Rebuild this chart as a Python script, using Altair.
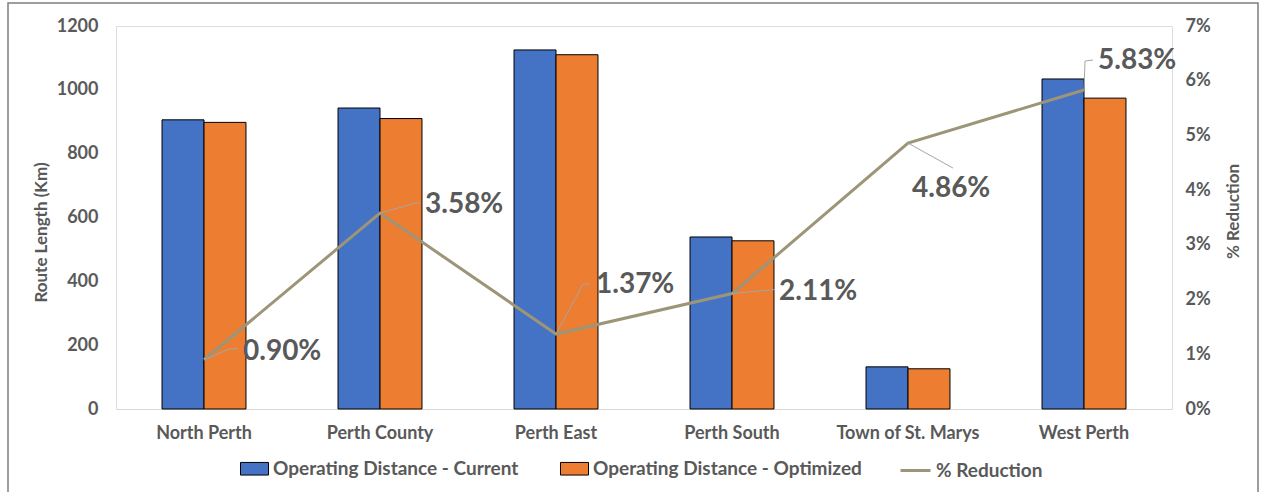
import altair as alt
import pandas as pd

# ---------------- data ----------------
districts = ["North Perth", "Perth County", "Perth East", "Perth South",
             "Town of St. Marys", "West Perth"]
current_km = [906, 943, 1125, 539, 132, 1034]
optimized_km = [898, 910, 1110, 527, 126, 974]
reduction_pct = [0.90, 3.58, 1.37, 2.11, 4.86, 5.83]
bar_series = ["Operating Distance - Current", "Operating Distance - Optimized"]
line_series = "% Reduction"

# annotation offsets (pixels from each line point): text anchor, leader elbow, leader end
label_dx = [39, 45, 40, 47, 4, 14]
label_dy = [-8, -8, -49, -2, 46, -29]
elbow_dx = [26, 35, 27, 43, 45, 1]
elbow_dy = [-11, -10, -50, -4, 25, -29]
end_dx = [34, 40, 34, 43, 45, 9]
end_dy = [-11, -10, -50, -4, 25, -30]

# ---------------- layout ----------------
W, H = 1056, 383
PCT_MAX = 7
STEP = W / len(districts)
PX_PER_PCT = H / PCT_MAX
TXT = "#595959"
FONT = "Lato"
BLUE, ORANGE, TAN = "#4472C4", "#ED7D31", "#9C9577"

bars_df = pd.DataFrame(
    [{"district": d, "series": bar_series[0], "km": c} for d, c in zip(districts, current_km)]
    + [{"district": d, "series": bar_series[1], "km": o} for d, o in zip(districts, optimized_km)]
)
line_df = pd.DataFrame({"xi": list(range(len(districts))), "pct": reduction_pct,
                        "s": [line_series] * len(districts)})

leader_rows, label_rows = [], []
for i, p in enumerate(reduction_pct):
    pts = [(0, 0), (elbow_dx[i], elbow_dy[i]), (end_dx[i], end_dy[i])]
    for k, (dx, dy) in enumerate(pts):
        leader_rows.append({"id": i, "ord": k, "xi": i + dx / STEP, "pct": p - dy / PX_PER_PCT})
    label_rows.append({"xi": i + label_dx[i] / STEP, "pct": p - label_dy[i] / PX_PER_PCT,
                       "text": f"{p:.2f}%"})
leader_df = pd.DataFrame(leader_rows)
label_df = pd.DataFrame(label_rows)

# ---------------- frame ----------------
frame = alt.Chart(pd.DataFrame({"k": [0]})).mark_rect(
    filled=False, stroke="#7F7F7F", strokeWidth=1.5
).encode(x=alt.value(-108), x2=alt.value(1142), y=alt.value(-23), y2=alt.value(480))

# ---------------- bars ----------------
bars = alt.Chart(bars_df).mark_bar(stroke="black", strokeWidth=1).encode(
    x=alt.X("district:N", sort=districts,
            scale=alt.Scale(paddingInner=0.523, paddingOuter=0.2615),
            axis=alt.Axis(title=None, labelAngle=0, ticks=False, domainColor="#D9D9D9",
                          domainWidth=1, labelPadding=15, labelFontSize=18,
                          labelFontWeight="bold", labelColor=TXT, labelFont=FONT)),
    xOffset=alt.XOffset("series:N", sort=bar_series,
                        scale=alt.Scale(paddingInner=0, paddingOuter=0)),
    y=alt.Y("km:Q", scale=alt.Scale(domain=[0, 1200], nice=False),
            axis=alt.Axis(values=[0, 200, 400, 600, 800, 1000, 1200], format="d", grid=False,
                          domain=False, ticks=False, labelPadding=18, labelFontSize=18,
                          labelFontWeight="bold", labelColor=TXT, labelFont=FONT,
                          title="Route Length (Km)", titleFontSize=17, titleFont=FONT,
                          titleColor=TXT, titleFontWeight="bold", titleX=-75, titleY=206,
                          titleBaseline="middle")),
    color=alt.Color("series:N", sort=bar_series,
                    scale=alt.Scale(domain=bar_series, range=[BLUE, ORANGE]),
                    legend=alt.Legend(orient="none", legendX=124, legendY=428,
                                      direction="horizontal", title=None,
                                      symbolType="M-1,-0.45H1V0.45H-1Z", symbolSize=784,
                                      symbolStrokeColor="black", symbolStrokeWidth=1,
                                      symbolOpacity=1,
                                      columnPadding=39, labelOffset=4, labelFontSize=19,
                                      labelFont=FONT, labelFontWeight="bold",
                                      labelColor=TXT, labelLimit=400)),
)

# ---------------- % reduction layers ----------------
xq = alt.X("xi:Q", scale=alt.Scale(domain=[-0.5, len(districts) - 0.5], nice=False, zero=False),
           axis=None)
yq = alt.Y("pct:Q", scale=alt.Scale(domain=[0, PCT_MAX], nice=False),
           axis=alt.Axis(orient="right", values=list(range(PCT_MAX + 1)),
                         labelExpr="datum.value + '%'", grid=False, domain=False, ticks=False,
                         labelPadding=13, labelFontSize=18, labelFontWeight="bold",
                         labelColor=TXT, labelFont=FONT, labelAlign="left",
                         title="% Reduction", titleAngle=270, titleFontSize=17,
                         titleFont=FONT, titleColor=TXT, titleFontWeight="bold",
                         titleX=61, titleY=185, titleBaseline="middle"))

line = alt.Chart(line_df).mark_line(strokeWidth=3).encode(
    x=xq, y=yq,
    stroke=alt.Stroke("s:N", scale=alt.Scale(domain=[line_series], range=[TAN]),
                      legend=alt.Legend(orient="none", legendX=783, legendY=428,
                                        title=None, symbolType="stroke", symbolSize=900,
                                        symbolStrokeWidth=3, labelOffset=4,
                                        labelFontSize=19, labelFont=FONT,
                                        labelFontWeight="bold", labelColor=TXT)),
)

leaders = alt.Chart(leader_df).mark_line(stroke="#A6A6A6", strokeWidth=1).encode(
    x=xq, y=yq, detail="id:N", order="ord:Q"
)

labels = alt.Chart(label_df).mark_text(
    align="left", baseline="middle", fontSize=28, font=FONT, fontWeight="bold", color=TXT
).encode(x=xq, y=yq, text="text:N")

pct_layer = alt.layer(line, leaders, labels)

chart = alt.layer(frame, bars, pct_layer).resolve_scale(
    x="independent", y="independent", color="independent"
).properties(
    width=W, height=H,
    autosize=alt.AutoSizeParams(type="none"),
    padding={"left": 116, "top": 26, "right": 93, "bottom": 83},
).configure_view(stroke="transparent").configure(background="white")

chart.save("out.html", embed_options={"renderer": "svg", "actions": False})
